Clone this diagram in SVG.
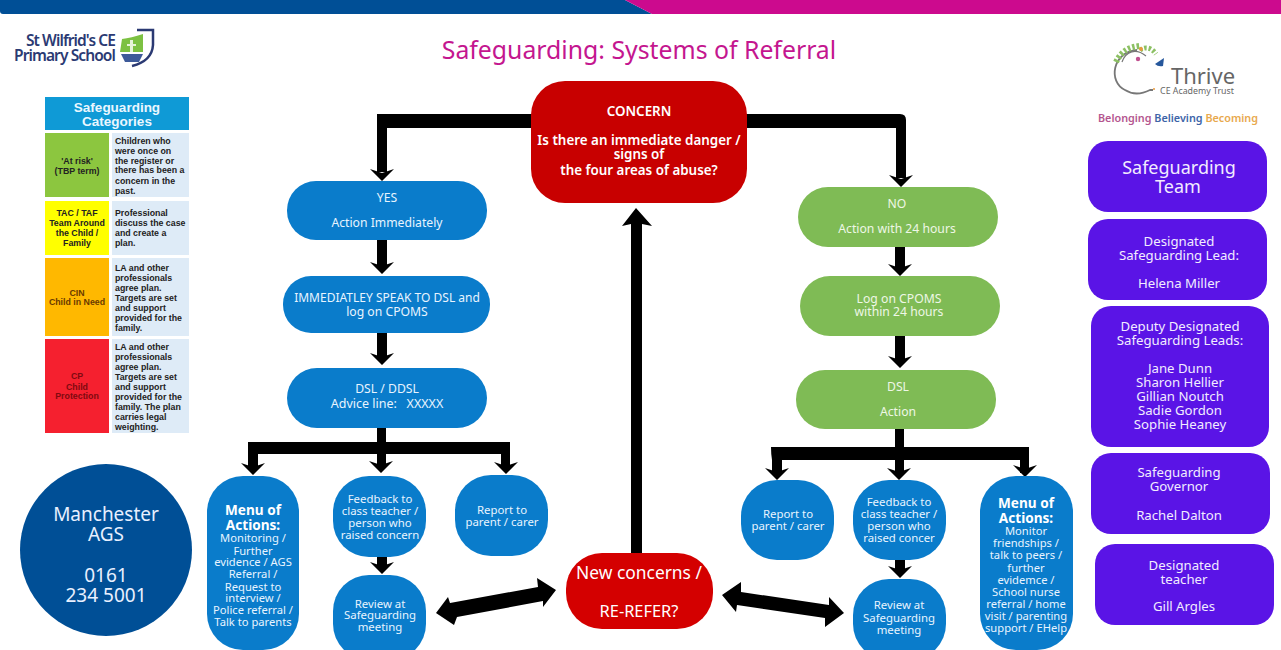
<svg xmlns="http://www.w3.org/2000/svg" xmlns:xlink="http://www.w3.org/1999/xlink" width="1281" height="650" viewBox="0 0 1281 650">
<style>
text{font-family:"Noto Sans","Liberation Sans",sans-serif;text-anchor:middle}
.t{fill:#e8f4ff;font-size:12.2px}
.s{fill:#e8f4ff;font-size:11.4px}
.m{fill:#e8f4ff;font-size:11.2px}
.mh{font-size:13.6px;font-weight:700;fill:#fff}
.g{fill:#eef7e6;font-size:12.2px}
.b{fill:#0a7ccb}
.gr{fill:#7fbb55}
.p{fill:#5a14e6}
.pt{fill:#f2ecff;font-size:13.2px}
.pb{font-size:18px;fill:#f2ecff}
.c{font-size:13.4px;font-weight:600;fill:#fff}
.cat{font-family:"Liberation Sans",Arial,sans-serif;font-size:8.8px;font-weight:700;fill:#222}
.catl{text-anchor:start}
.cin{fill:#6a3a00}
.cp{fill:#800a10}
.hd{font-family:"Liberation Sans",sans-serif;font-size:13.5px;font-weight:700;fill:#eaf7ff}
.ag{fill:#e8f0ff;font-size:19px}
.logo{font-size:15.5px;font-weight:600;fill:#2b3a73;text-anchor:end;letter-spacing:-.9px}
.bar{fill:#000}
</style>
<defs>
<path id="h" d="M-12-12L0-8L12-12L0 0Z" fill="#000"/>
</defs>
<rect width="1281" height="650" fill="#fff"/>
<g id="header">
<path d="M0 0H625L652 14H3Q0 14 0 11Z" fill="#004f96"/>
<path d="M625 0H1281V14H652Z" fill="#cc0a8e"/>
</g>
<text x="639" y="59" font-size="24.800" fill="#c4168f" id="title">Safeguarding: Systems of Referral</text>
<g id="school-logo">
<text class="logo" x="115" y="46">St Wilfrid's CE</text>
<text class="logo" x="115" y="61">Primary School</text>
<path d="M122 39Q131 38 143 34V52H120Z" fill="#7cc142"/>
<path d="M130 40H133V52H130ZM127 44H136V46H127Z" fill="#e6f4d8"/>
<path d="M121 54H143L139 62H125Z" fill="#3d5a99"/>
<path d="M137 30H153V45Q152 61 132 66" fill="none" stroke="#2b3a73" stroke-width="2.500"/>
</g>
<g id="categories">
<rect x="45" y="97" width="144" height="33" fill="#0f9ad6"/>
<text class="hd" x="117" y="112">Safeguarding</text>
<text class="hd" x="117" y="126">Categories</text>
<rect x="45" y="133" width="64" height="64" fill="#8cc63f"/><rect x="112" y="133" width="77" height="64" fill="#deebf7"/>
<rect x="45" y="201" width="64" height="54" fill="#ffff00"/><rect x="112" y="201" width="77" height="54" fill="#deebf7"/>
<rect x="45" y="258" width="64" height="78" fill="#ffb800"/><rect x="112" y="258" width="77" height="78" fill="#deebf7"/>
<rect x="45" y="339" width="64" height="94" fill="#f5202f"/><rect x="112" y="339" width="77" height="94" fill="#deebf7"/>
<text class="cat" x="77" y="164">'At risk'</text><text class="cat" x="77" y="174">(TBP term)</text>
<text class="cat" x="77" y="216">TAC / TAF</text><text class="cat" x="77" y="226">Team Around</text><text class="cat" x="77" y="236">the Child /</text><text class="cat" x="77" y="246">Family</text>
<text class="cat cin" x="77" y="296">CIN</text><text class="cat cin" x="77" y="305">Child in Need</text>
<text class="cat cp" x="77" y="379">CP</text><text class="cat cp" x="77" y="390">Child</text><text class="cat cp" x="77" y="399">Protection</text>
<text class="cat catl" x="115" y="144">Children who</text><text class="cat catl" x="115" y="154">were once on</text><text class="cat catl" x="115" y="164">the register or</text><text class="cat catl" x="115" y="173">there has been a</text><text class="cat catl" x="115" y="184">concern in the</text><text class="cat catl" x="115" y="194">past.</text>
<text class="cat catl" x="115" y="216">Professional</text><text class="cat catl" x="115" y="226">discuss the case</text><text class="cat catl" x="115" y="236">and create a</text><text class="cat catl" x="115" y="246">plan.</text>
<text class="cat catl" x="115" y="271">LA and other</text><text class="cat catl" x="115" y="281">professionals</text><text class="cat catl" x="115" y="291">agree plan.</text><text class="cat catl" x="115" y="301">Targets are set</text><text class="cat catl" x="115" y="311">and support</text><text class="cat catl" x="115" y="321">provided for the</text><text class="cat catl" x="115" y="331">family.</text>
<text class="cat catl" x="115" y="350">LA and other</text><text class="cat catl" x="115" y="360">professionals</text><text class="cat catl" x="115" y="370">agree plan.</text><text class="cat catl" x="115" y="380">Targets are set</text><text class="cat catl" x="115" y="390">and support</text><text class="cat catl" x="115" y="400">provided for the</text><text class="cat catl" x="115" y="410">family. The plan</text><text class="cat catl" x="115" y="420">carries legal</text><text class="cat catl" x="115" y="430">weighting.</text>
</g>
<g id="connectors">
<path class="bar" d="M377 114H535V128H387V172H377Z"/><use xlink:href="#h" href="#h" x="382" y="181"/>
<path class="bar" d="M745 114H900Q906 114 906 120V178H896V128H745Z"/><use xlink:href="#h" href="#h" x="901" y="187"/>
<rect class="bar" x="377" y="240" width="10" height="26"/><use xlink:href="#h" href="#h" x="382" y="274"/>
<rect class="bar" x="377" y="333" width="10" height="24"/><use xlink:href="#h" href="#h" x="382" y="365"/>
<rect class="bar" x="377" y="428" width="9" height="38"/>
<rect class="bar" x="248" y="442" width="262" height="12"/>
<rect class="bar" x="248" y="442" width="10" height="26"/>
<rect class="bar" x="501" y="442" width="9" height="25"/>
<use xlink:href="#h" href="#h" x="253" y="475"/><use xlink:href="#h" href="#h" x="381" y="473"/><use xlink:href="#h" href="#h" x="506" y="474"/>
<rect class="bar" x="377" y="556" width="10" height="11"/><use xlink:href="#h" href="#h" x="382" y="574"/>
<rect class="bar" x="895" y="247" width="10" height="22"/><use xlink:href="#h" href="#h" x="900" y="276"/>
<rect class="bar" x="895" y="336" width="10" height="25"/><use xlink:href="#h" href="#h" x="900" y="368"/>
<path class="bar" d="M895 428H904V447H1029V473H1020V460H904V472H895V460H782V472H772V460Q771 454 771 447H895Z"/>
<use xlink:href="#h" href="#h" x="777" y="480"/><use xlink:href="#h" href="#h" x="899" y="480"/><use xlink:href="#h" href="#h" x="1025" y="477"/>
<rect class="bar" x="895" y="560" width="10" height="12"/><use xlink:href="#h" href="#h" x="900" y="578"/>
<path class="bar" d="M631 554H642V224L652 226L636 208L622 226L631 224Z"/>
<path class="bar" d="M436 613L448 597L450 603L538 587L537 578L556 590L543 607L543 601L457 617L454 625Z"/>
<path class="bar" d="M722 595L741 582L741 592L829 605L829 597L844 613L825 627L825 618L737 605L736 612Z"/>
</g>
<g id="concern"><rect x="531" y="81" width="216" height="122" rx="34" fill="#c80000"/>
<text class="c" x="639" y="116">CONCERN</text>
<text class="c" x="639" y="145">Is there an immediate danger /</text>
<text class="c" x="639" y="159">signs of</text>
<text class="c" x="639" y="175">the four areas of abuse?</text></g>
<g id="yes"><rect class="b" x="287" y="181" width="200" height="59" rx="29"/><text class="t" x="387" y="202">YES</text><text class="t" x="387" y="227">Action Immediately</text></g>
<g id="speak"><rect class="b" x="283" y="276" width="207" height="57" rx="28"/><text class="t" style="font-size:12px" x="387" y="302">IMMEDIATLEY SPEAK TO DSL and</text><text class="t" x="387" y="316">log on CPOMS</text></g>
<g id="advice"><rect class="b" x="287" y="368" width="200" height="60" rx="30"/><text class="t" x="387" y="393">DSL / DDSL</text><text class="t" style="font-size:12.5px" x="387" y="408" xml:space="preserve">Advice line:   XXXXX</text></g>
<g id="menu-left"><rect class="b" x="207" y="476" width="92" height="174" rx="36"/>
<text class="mh" x="253" y="515">Menu of</text><text class="mh" x="253" y="530">Actions:</text>
<text class="m" x="253" y="542">Monitoring /</text><text class="m" x="253" y="555">Further</text><text class="m" x="253" y="566">evidence / AGS</text><text class="m" x="253" y="578">Referral /</text><text class="m" x="253" y="591">Request to</text><text class="m" x="253" y="602">interview /</text><text class="m" x="253" y="614">Police referral /</text><text class="m" x="253" y="626">Talk to parents</text></g>
<g id="feedback-left"><rect class="b" x="333" y="476" width="93" height="81" rx="36"/>
<text class="s" x="380" y="503">Feedback to</text><text class="s" x="380" y="515">class teacher /</text><text class="s" x="380" y="527">person who</text><text class="s" x="380" y="539">raised concern</text></g>
<g id="report-left"><rect class="b" x="455" y="475" width="93" height="81" rx="36"/>
<text class="s" x="502" y="514">Report to</text><text class="s" x="502" y="526">parent / carer</text></g>
<g id="review-left"><rect class="b" x="333" y="575" width="93" height="85" rx="36"/>
<text class="s" x="380" y="608">Review at</text><text class="s" x="380" y="619">Safeguarding</text><text class="s" x="380" y="631">meeting</text></g>
<g id="new-concerns"><rect x="566" y="553" width="147" height="76" rx="36" fill="#d40000"/>
<text x="639" y="579" style="font-size:17.400px;fill:#fff">New concerns /</text><text x="639" y="617" style="font-size:16.400px;fill:#fff">RE-REFER?</text></g>
<g id="no"><rect class="gr" x="798" y="187" width="200" height="60" rx="30"/><text class="g" x="897" y="208">NO</text><text class="g" x="897" y="233">Action with 24 hours</text></g>
<g id="log"><rect class="gr" x="800" y="276" width="200" height="60" rx="30"/><text class="g" x="899" y="303">Log on CPOMS</text><text class="g" x="899" y="316">within 24 hours</text></g>
<g id="dsl"><rect class="gr" x="796" y="370" width="200" height="59" rx="29"/><text class="g" x="898" y="391">DSL</text><text class="g" x="898" y="416">Action</text></g>
<g id="report-right"><rect class="b" x="741" y="480" width="93" height="80" rx="36"/>
<text class="s" x="788" y="518">Report to</text><text class="s" x="788" y="530">parent / carer</text></g>
<g id="feedback-right"><rect class="b" x="853" y="480" width="93" height="80" rx="36"/>
<text class="s" x="899" y="506">Feedback to</text><text class="s" x="899" y="518">class teacher /</text><text class="s" x="899" y="530">person who</text><text class="s" x="899" y="542">raised concer</text></g>
<g id="review-right"><rect class="b" x="853" y="579" width="93" height="81" rx="36"/>
<text class="s" x="899" y="609">Review at</text><text class="s" x="899" y="622">Safeguarding</text><text class="s" x="899" y="634">meeting</text></g>
<g id="menu-right"><rect class="b" x="980" y="476" width="93" height="174" rx="36"/>
<text class="mh" x="1026" y="508">Menu of</text><text class="mh" x="1026" y="523">Actions:</text>
<text class="m" x="1026" y="535">Monitor</text><text class="m" x="1026" y="547">friendships /</text><text class="m" x="1026" y="559">talk to peers /</text><text class="m" x="1026" y="572">further</text><text class="m" x="1026" y="584">evidemce /</text><text class="m" x="1026" y="596">School nurse</text><text class="m" x="1026" y="608">referral / home</text><text class="m" x="1026" y="620">visit / parenting</text><text class="m" x="1026" y="632">support / EHelp</text></g>
<g id="ags"><circle cx="106" cy="550" r="86" fill="#004f96"/>
<text class="ag" x="106" y="521">Manchester</text><text class="ag" x="106" y="541">AGS</text><text class="ag" x="106" y="582">0161</text><text class="ag" x="106" y="602">234 5001</text></g>
<g id="thrive-logo">
<path d="M1137 50C1112 52 1108 82 1125 90Q1136 97 1150 90H1153" fill="none" stroke="#777" stroke-width="1.800"/>
<path d="M1122 62C1126 51 1136 48 1146 56" fill="none" stroke="#777" stroke-width="1.200"/>
<path d="M1116 62C1122 50 1130 47 1140 46" fill="none" stroke="#8cc063" stroke-width="6" stroke-dasharray="2.500 2"/>
<path d="M1140 50C1146 46 1152 48 1156 54" fill="none" stroke="#8cc063" stroke-width="5" stroke-dasharray="2.500 2"/>
<path d="M1155 64L1164 58L1163 66Q1158 67 1155 64Z" fill="#26579c"/>
<circle cx="1138" cy="59" r="2.200" fill="#c0508f"/><circle cx="1141" cy="49" r="2" fill="#e89a3c"/>
<circle cx="1154" cy="89" r="1" fill="#e89a3c"/>
<text x="1203" y="84" style="font-size:22px;fill:#666">Thrive</text>
<text x="1197" y="94" style="font-size:8.800px;fill:#666">CE Academy Trust</text>
<text x="1178" y="122" style="font-size:10.800px;font-weight:600"><tspan fill="#b4568f">Belonging</tspan> <tspan fill="#3d64a8">Believing</tspan> <tspan fill="#e8a94e">Becoming</tspan></text>
</g>
<g id="team"><rect class="p" x="1088" y="141" width="179" height="71" rx="20"/><text class="pb" x="1179" y="174">Safeguarding</text><text class="pb" x="1178" y="193">Team</text></g>
<g id="dsl-lead"><rect class="p" x="1088" y="219" width="179" height="81" rx="20"/><text class="pt" x="1179" y="246">Designated</text><text class="pt" x="1179" y="260">Safeguarding Lead:</text><text class="pt" x="1179" y="288">Helena Miller</text></g>
<g id="deputy"><rect class="p" x="1091" y="306" width="178" height="141" rx="20"/><text class="pt" x="1180" y="331">Deputy Designated</text><text class="pt" x="1180" y="345">Safeguarding Leads:</text><text class="pt" x="1180" y="373">Jane Dunn</text><text class="pt" x="1180" y="387">Sharon Hellier</text><text class="pt" x="1180" y="401">Gillian Noutch</text><text class="pt" x="1180" y="415">Sadie Gordon</text><text class="pt" x="1180" y="429">Sophie Heaney</text></g>
<g id="governor"><rect class="p" x="1091" y="453" width="179" height="81" rx="20"/><text class="pt" x="1179" y="477">Safeguarding</text><text class="pt" x="1179" y="491">Governor</text><text class="pt" x="1179" y="520">Rachel Dalton</text></g>
<g id="teacher"><rect class="p" x="1095" y="544" width="179" height="81" rx="20"/><text class="pt" x="1184" y="570">Designated</text><text class="pt" x="1184" y="584">teacher</text><text class="pt" x="1184" y="611">Gill Argles</text></g>
</svg>
